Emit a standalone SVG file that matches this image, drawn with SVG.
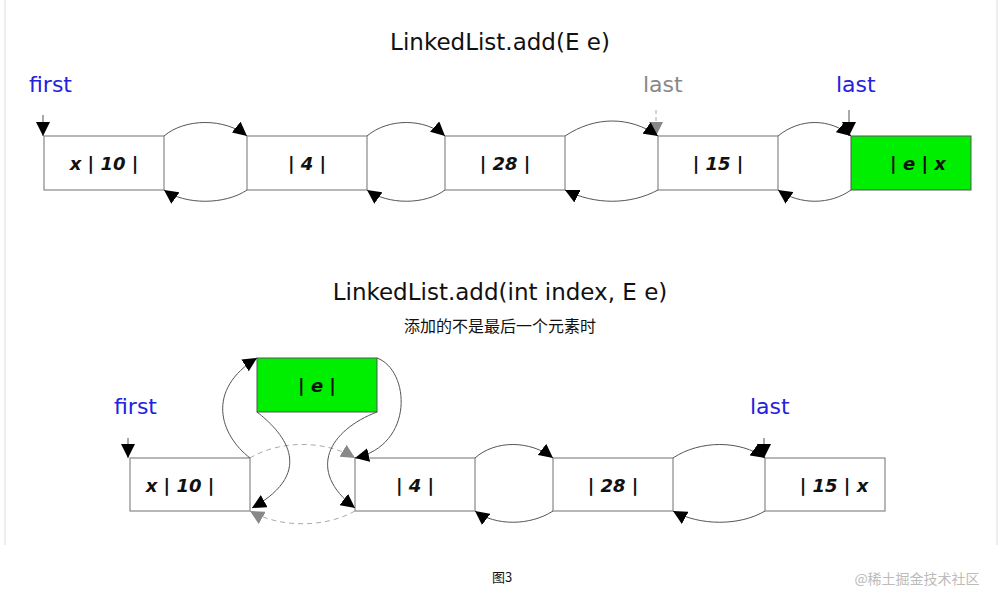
<svg xmlns="http://www.w3.org/2000/svg" width="1004" height="595" viewBox="0 0 1004 595">
<style>
.b{fill:#fff;stroke:#888;stroke-width:1.2}
.g{fill:#00ee00;stroke:#555;stroke-width:1}
.t{font-family:"DejaVu Sans",sans-serif;font-size:18px;font-weight:bold;font-style:italic;text-anchor:middle;fill:#111}
.h{font-family:"DejaVu Sans",sans-serif;font-size:23px;text-anchor:middle;fill:#111}
.p{font-family:"DejaVu Sans",sans-serif;font-size:22px;fill:#2222dd}
.c{fill:none;stroke:#555;stroke-width:1}
.d{fill:none;stroke:#aaa;stroke-width:1;stroke-dasharray:5,4}
</style>
<defs>
<marker id="a" viewBox="0 0 10 10" refX="10" refY="5" markerWidth="14" markerHeight="14" markerUnits="userSpaceOnUse" orient="auto"><path d="M0,0L10,5L0,10z" fill="#000"/></marker>
<marker id="ag" viewBox="0 0 10 10" refX="10" refY="5" markerWidth="14" markerHeight="14" markerUnits="userSpaceOnUse" orient="auto"><path d="M0,0L10,5L0,10z" fill="#888"/></marker>
</defs>
<rect width="1004" height="595" fill="#fff"/>
<line x1="5" y1="0" x2="5" y2="545" stroke="#ddd"/>
<line x1="997" y1="0" x2="997" y2="545" stroke="#ddd"/>
<text class="h" x="500" y="50">LinkedList.add(E e)</text>
<text class="p" x="29" y="92">first</text>
<text class="p" x="643" y="92" fill="#888" style="fill:#888">last</text>
<text class="p" x="836" y="92">last</text>
<g id="n1"><rect class="b" x="44" y="136" width="120" height="54"/><text class="t" x="104" y="170">x | 10 |</text></g>
<g id="n2"><rect class="b" x="247" y="136" width="120" height="54"/><text class="t" x="307" y="170">| 4 |</text></g>
<g id="n3"><rect class="b" x="445" y="136" width="120" height="54"/><text class="t" x="505" y="170">| 28 |</text></g>
<g id="n4"><rect class="b" x="658" y="136" width="120" height="54"/><text class="t" x="718" y="170">| 15 |</text></g>
<g id="n5"><rect class="g" x="851" y="136" width="120" height="54"/><text class="t" x="918" y="170">| e | x</text></g>
<text class="h" x="500" y="300">LinkedList.add(int index, E e)</text>
<text x="500" y="332" font-family="'Noto Sans CJK SC',sans-serif" font-size="16" text-anchor="middle" fill="#111">添加的不是最后一个元素时</text>
<text class="p" x="114" y="414">first</text>
<text class="p" x="750" y="414">last</text>
<g id="m1"><rect class="b" x="130" y="458" width="120" height="53"/><text class="t" x="180" y="492">x | 10 |</text></g>
<g id="m2"><rect class="b" x="355" y="458" width="120" height="53"/><text class="t" x="415" y="492">| 4 |</text></g>
<g id="m3"><rect class="b" x="553" y="458" width="120" height="53"/><text class="t" x="613" y="492">| 28 |</text></g>
<g id="m4"><rect class="b" x="765" y="458" width="120" height="53"/><text class="t" x="834" y="492">| 15 | x</text></g>
<g id="me"><rect class="g" x="257" y="358" width="120" height="54"/><text class="t" x="317" y="392">| e |</text></g>
<text x="502" y="582" font-family="'Noto Sans CJK SC',sans-serif" font-size="13" text-anchor="middle" fill="#111">图3</text>
<text x="917" y="584" font-family="'Noto Sans CJK SC',sans-serif" font-size="14" text-anchor="middle" fill="#bbb">@稀土掘金技术社区</text>
<g id="connectors">
<path class="c" d="M43,115V136" marker-end="url(#a)"/>
<path class="d" d="M656,110V136" marker-end="url(#ag)" style="stroke-dasharray:4,3"/>
<path class="c" d="M849,110V136" marker-end="url(#a)"/>
<path class="c" d="M164,136C185,118 225,118 247,136" marker-end="url(#a)"/>
<path class="c" d="M247,190C225,205 185,205 164,190" marker-end="url(#a)"/>
<path class="c" d="M367,136C388,118 425,118 445,136" marker-end="url(#a)"/>
<path class="c" d="M445,190C425,205 388,205 367,190" marker-end="url(#a)"/>
<path class="c" d="M565,136C595,116 630,116 658,136" marker-end="url(#a)"/>
<path class="c" d="M658,190C630,205 595,205 565,190" marker-end="url(#a)"/>
<path class="c" d="M778,136C800,118 830,118 851,136" marker-end="url(#a)"/>
<path class="c" d="M851,190C830,205 800,205 778,190" marker-end="url(#a)"/>
<path class="c" d="M128,438V458" marker-end="url(#a)"/>
<path class="c" d="M764,438V458" marker-end="url(#a)"/>
<path class="d" d="M250,458C280,440 325,440 355,458" marker-end="url(#ag)"/>
<path class="d" d="M355,511C325,528 280,528 250,511" marker-end="url(#ag)"/>
<path class="c" d="M250,458C220,435 205,390 257,358" marker-end="url(#a)"/>
<path class="c" d="M257,412C280,430 320,470 252,508" marker-end="url(#a)"/>
<path class="c" d="M377,358C410,370 415,445 355,458" marker-end="url(#a)"/>
<path class="c" d="M377,412C330,430 305,470 355,508" marker-end="url(#a)"/>
<path class="c" d="M475,458C495,440 530,440 553,458" marker-end="url(#a)"/>
<path class="c" d="M553,511C530,526 495,526 475,511" marker-end="url(#a)"/>
<path class="c" d="M673,458C700,440 740,440 765,458" marker-end="url(#a)"/>
<path class="c" d="M765,511C740,526 700,526 673,511" marker-end="url(#a)"/>
</g>
</svg>
